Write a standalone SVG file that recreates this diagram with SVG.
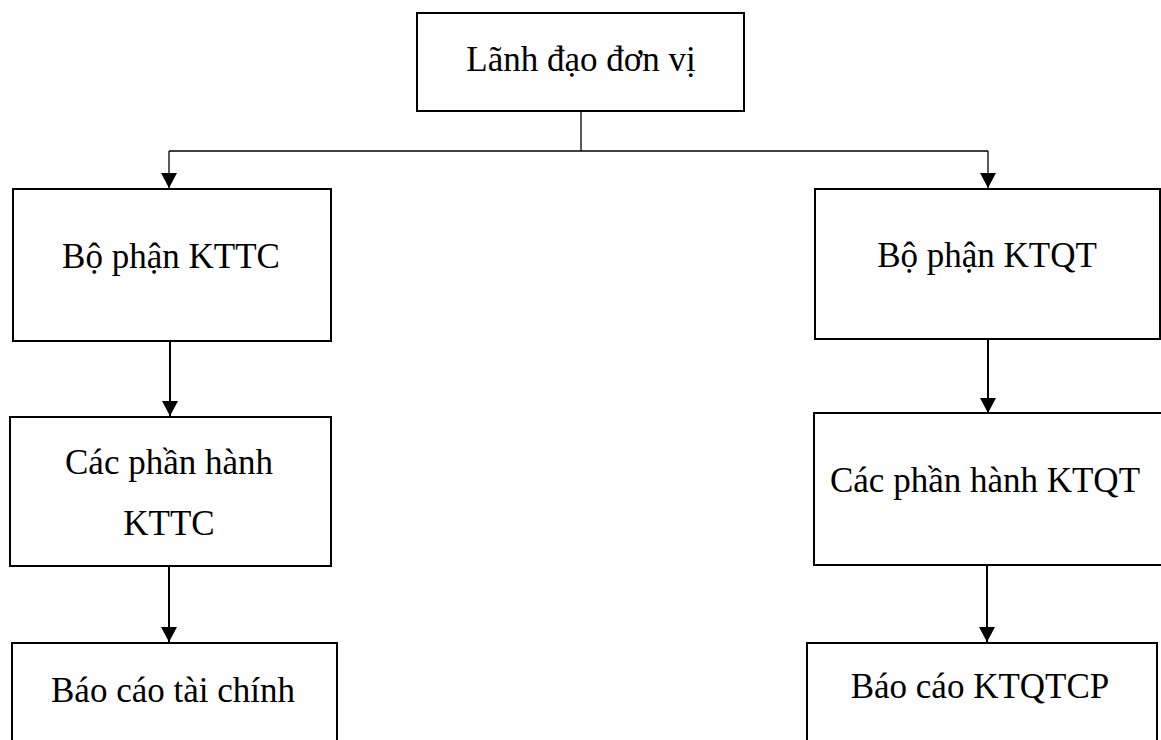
<svg xmlns="http://www.w3.org/2000/svg" width="1161" height="740" viewBox="0 0 1161 740">
<style>
.box{fill:#fff;stroke:#000;stroke-width:2}
.t{font-family:"Liberation Serif","Times New Roman",serif;font-size:35px;fill:#000;text-anchor:middle}
.thin{fill:none;stroke:#000;stroke-width:1.3}
.arr{fill:none;stroke:#000;stroke-width:2}
</style>
<defs>
<marker id="ah" markerUnits="userSpaceOnUse" markerWidth="16" markerHeight="16" viewBox="0 0 16 16" refX="15" refY="8" orient="auto">
<path d="M0,0 L15,8 L0,16 Z" fill="#000"/>
</marker>
</defs>
<rect width="1161" height="740" fill="#fff"/>
<g id="connectors">
<path class="thin" d="M581,111 V151"/>
<path class="thin" d="M169,151 H988"/>
<path class="thin" d="M169,151 V188" marker-end="url(#ah)"/>
<path class="thin" d="M988,151 V188" marker-end="url(#ah)"/>
<path class="arr" d="M170,341 V416" marker-end="url(#ah)"/>
<path class="arr" d="M988,339 V413" marker-end="url(#ah)"/>
<path class="arr" d="M169,566 V642" marker-end="url(#ah)"/>
<path class="arr" d="M987,565 V642" marker-end="url(#ah)"/>
</g>
<g id="n-lanhdao">
<rect class="box" x="417" y="13" width="327" height="98"/>
<text class="t" x="581" y="71">Lãnh đạo đơn vị</text>
</g>
<g id="n-kttc">
<rect class="box" x="13" y="189" width="318" height="152"/>
<text class="t" x="171" y="268">Bộ phận KTTC</text>
</g>
<g id="n-phanhanh-kttc">
<rect class="box" x="10" y="417" width="321" height="149"/>
<text class="t" x="169" y="474">Các phần hành</text>
<text class="t" x="169" y="535">KTTC</text>
</g>
<g id="n-bctc">
<rect class="box" x="12" y="643" width="325" height="110"/>
<text class="t" x="173" y="702">Báo cáo tài chính</text>
</g>
<g id="n-ktqt">
<rect class="box" x="815" y="189" width="345" height="150"/>
<text class="t" x="987" y="267">Bộ phận KTQT</text>
</g>
<g id="n-phanhanh-ktqt">
<rect class="box" x="814" y="413" width="360" height="152"/>
<text class="t" x="985" y="492">Các phần hành KTQT</text>
</g>
<g id="n-bcktqtcp">
<rect class="box" x="807" y="643" width="350" height="110"/>
<text class="t" x="980" y="698">Báo cáo KTQTCP</text>
</g>
</svg>
